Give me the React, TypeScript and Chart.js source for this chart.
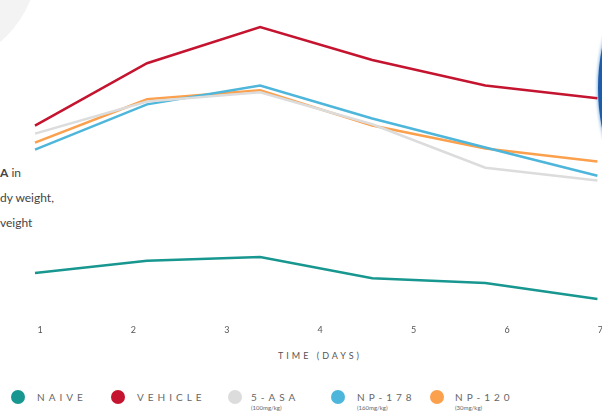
import React, { useEffect, useRef } from "react";
import { Chart, registerables } from "chart.js";

Chart.register(...registerables);

const timePoints = [0.946, 2.146, 3.357, 4.557, 5.768, 6.968];
const tickDays = [1, 2, 3, 4, 5, 6, 7];

const naive = [15.0, 18.8, 20.0, 13.4, 11.9, 6.9];
const vehicle = [60.9, 80.3, 91.6, 81.3, 73.4, 69.4];
const asa = [58.4, 68.4, 71.3, 61.3, 47.8, 43.8];
const np178 = [53.4, 67.5, 73.4, 63.1, 54.1, 45.3];
const np120 = [55.6, 69.1, 71.9, 60.9, 53.8, 49.7];

const seriesNames = ["NAIVE", "VEHICLE", "5-ASA", "NP-178", "NP-120"];
const seriesDoses = ["", "", "(100mg/kg)", "(160mg/kg)", "(30mg/kg)"];
const seriesColors = ["#17978f", "#c4142f", "#dcdcdc", "#4db6da", "#fba04d"];
const seriesValues = [naive, vehicle, asa, np178, np120];

const legendCircleX = [18, 118, 235, 338, 437];
const legendTextX = [37, 137, 251, 357, 455];

export default function App() {
  const canvasRef = useRef<HTMLCanvasElement | null>(null);

  useEffect(() => {
    if (!canvasRef.current) return;
    const order = [0, 2, 3, 4, 1];
    const chart = new Chart(canvasRef.current, {
      type: "line",
      data: {
        datasets: order.map((i) => ({
          label: seriesNames[i],
          data: seriesValues[i].map((v, k) => ({ x: timePoints[k], y: v })),
          borderColor: seriesColors[i],
          backgroundColor: seriesColors[i],
          borderWidth: 2.5,
          pointRadius: 0,
          tension: 0,
          fill: false,
        })),
      },
      options: {
        animation: false,
        responsive: true,
        maintainAspectRatio: false,
        layout: { padding: 0 },
        plugins: { legend: { display: false }, tooltip: { enabled: false } },
        scales: {
          x: {
            type: "linear",
            min: 0.5714,
            max: 7.0214,
            grid: { display: false },
            border: { display: false },
            afterBuildTicks: (scale: any) => {
              scale.ticks = tickDays.map((d) => ({ value: d }));
            },
            ticks: {
              stepSize: 1,
              includeBounds: false,
              padding: 4,
              color: "#555",
              font: { family: "Lato", size: 9 },
              maxRotation: 0,
              autoSkip: false,
              callback: (v: any) => String(v),
            },
          },
          y: { display: false, min: 2.8, max: 100 },
        },
      },
    });
    return () => chart.destroy();
  }, []);

  const legendFont = { fontFamily: "Lato, sans-serif", color: "#666" };

  return (
    <div style={{ position: "absolute", left: 0, top: 0, width: 602, height: 413, overflow: "hidden", background: "#fff" }}>
      <div style={{ position: "absolute", left: -178, top: -148, width: 216, height: 216, borderRadius: "50%", background: "#f3f3f3" }} />
      <div style={{ position: "absolute", left: 598, top: -114, width: 404, height: 404, borderRadius: "50%", background: "#1f5ca8", boxShadow: "0 0 3px 1px #8fbbe6" }} />
      <div style={{ position: "absolute", left: 0, top: 160, fontFamily: "Lato, sans-serif", fontSize: 12, color: "#444", lineHeight: "25px", whiteSpace: "nowrap" }}>
        <div><b>A</b> in</div>
        <div>dy weight,</div>
        <div>veight</div>
      </div>
      <div style={{ position: "absolute", left: 0, top: 0, width: 607, height: 339 }}>
        <canvas ref={canvasRef} />
      </div>
      <div style={{ position: "absolute", left: 220, width: 200, top: 350, textAlign: "center", fontFamily: "Lato, sans-serif", fontSize: 9, letterSpacing: 3, color: "#555" }}>
        TIME (DAYS)
      </div>
      {seriesNames.map((name, i) => (
        <React.Fragment key={name}>
          <div style={{ position: "absolute", left: legendCircleX[i] - 7, top: 390, width: 14, height: 14, borderRadius: "50%", background: seriesColors[i] }} />
          <div style={{ position: "absolute", left: legendTextX[i], top: 390, fontSize: 10, letterSpacing: 4, lineHeight: "14px", whiteSpace: "nowrap", ...legendFont }}>
            {name}
          </div>
          {seriesDoses[i] && (
            <div style={{ position: "absolute", left: legendTextX[i], top: 404, fontSize: 6, lineHeight: "7px", whiteSpace: "nowrap", ...legendFont }}>
              {seriesDoses[i]}
            </div>
          )}
        </React.Fragment>
      ))}
    </div>
  );
}
